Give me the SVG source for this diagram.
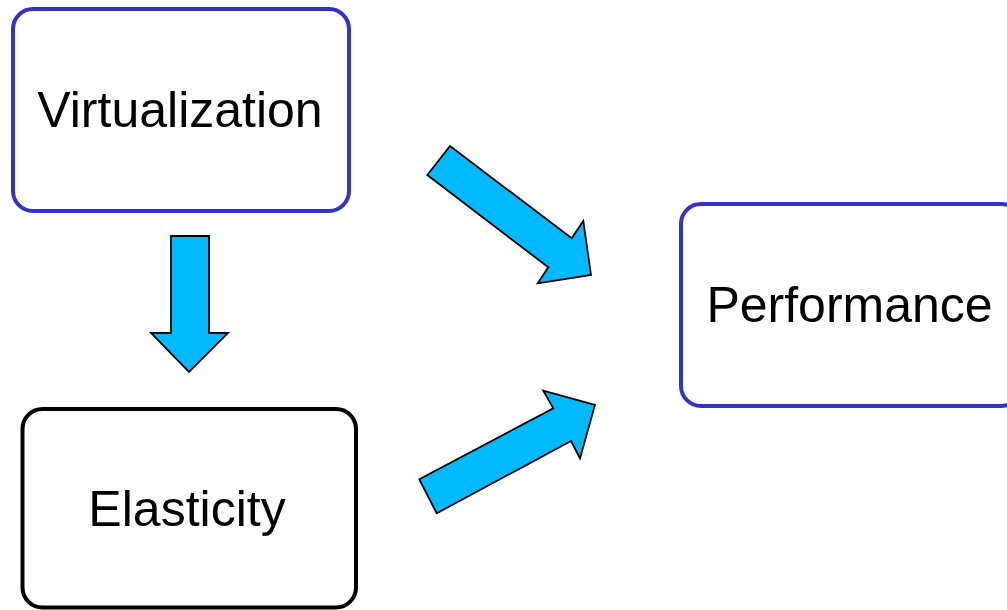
<svg xmlns="http://www.w3.org/2000/svg" width="1007" height="610" viewBox="0 0 1007 610">
  <style>
    .box { fill: #ffffff; stroke-width: 4; }
    .blue { stroke: #3333c4; }
    .dark { stroke: #000000; }
    .label { font-family: "Liberation Sans", Arial, sans-serif; font-size: 50px; fill: #000000; text-anchor: middle; }
    .arrow { fill: #00b9ff; stroke: #000000; stroke-width: 1.8; stroke-linejoin: miter; }
  </style>
  <rect width="1007" height="610" fill="#ffffff"/>

  <g id="virtualization">
    <rect class="box blue" x="13" y="9" width="336" height="202" rx="20" ry="20"/>
    <text class="label" x="180" y="127">Virtualization</text>
  </g>

  <g id="performance">
    <rect class="box blue" x="681" y="204" width="340" height="202" rx="20" ry="20"/>
    <text class="label" x="849.5" y="322">Performance</text>
  </g>

  <g id="elasticity">
    <rect class="box dark" x="22.5" y="409" width="333.5" height="198.5" rx="20" ry="20"/>
    <text class="label" x="187" y="526">Elasticity</text>
  </g>

  <g id="connectors">
    <!-- Virtualization to Elasticity -->
    <polygon class="arrow" points="171,236 209,236 209,333 228,333 189,372 151,333 171,333"/>
    <!-- Virtualization to Performance -->
    <polygon class="arrow" points="450,146 571.7,238.3 583.3,221 591,275 537.7,283.3 548.3,267.3 427.3,175"/>
    <!-- Elasticity to Performance -->
    <polygon class="arrow" points="419.3,479.3 553.3,408.3 543.3,390.7 595,405 580,458.3 571,441 436.7,513.3"/>
  </g>
</svg>
